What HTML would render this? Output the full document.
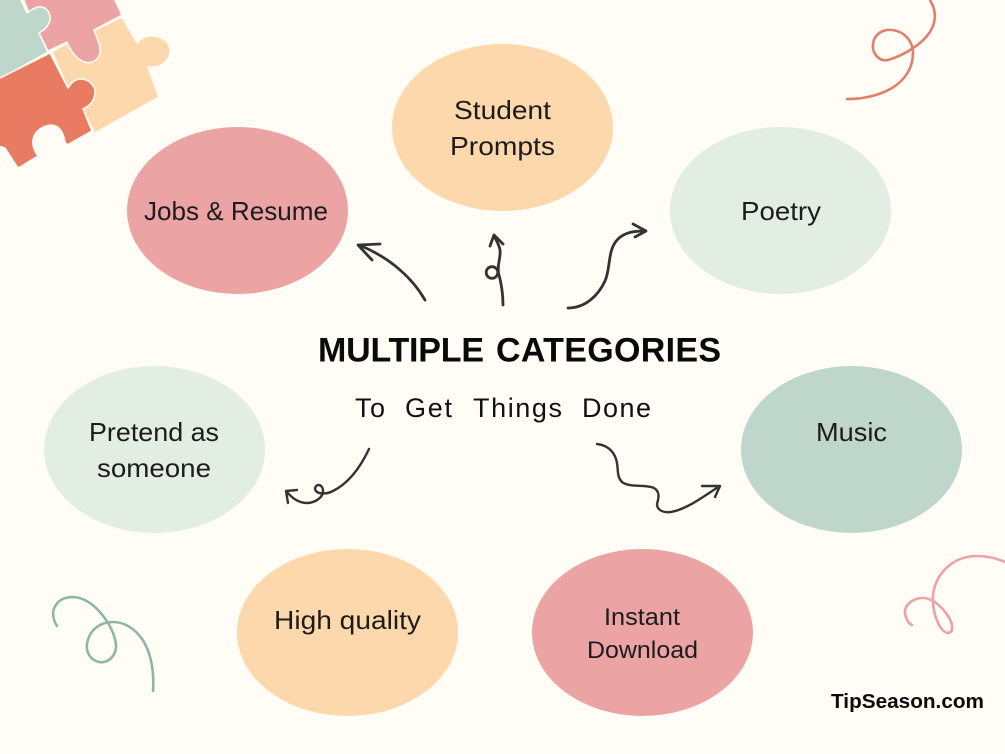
<!DOCTYPE html>
<html><head><meta charset="utf-8"><style>
html,body{margin:0;padding:0;background:#FFFDF6}
svg{display:block}
text{font-family:"Liberation Sans",sans-serif;fill:#1c1c1c}
.l{font-size:26px}
.h{font-size:27px;fill:#111}
.a{fill:none;stroke:#333;stroke-width:2.8;stroke-linecap:round;stroke-linejoin:round}
.s{fill:none;stroke-width:2.6;stroke-linecap:round}
.p{stroke:#FFFDF6;stroke-width:1.5;stroke-linejoin:round}
</style></head><body>
<svg width="1005" height="754" viewBox="0 0 1005 754" xmlns="http://www.w3.org/2000/svg">
<rect width="1005" height="754" fill="#FFFDF6"/>
<!-- puzzle -->
<path class="p" d="M52 52L67 43L95 30L122 17L137 43C141 38 147 35 153 36C164 37 171 44 170 52C169 62 158 69 148 67L159 97L95 133L83 111L68 88Z" fill="#FDD8AC"/>
<path class="p" d="M23 -2L29 13L39 33L48 51L67 42C70 50 76 58 82 61C90 65 98 61 100 53C101 44 96 37 94 30L122 15L114 -2Z" fill="#EBA3A3"/>
<path class="p" d="M-2 -2H20L27 13C32 9 38 6 42 7C49 9 52 17 49 23C47 28 43 31 39 33L48 52L-2 80Z" fill="#BFD6CB"/>
<path class="p" d="M50 53L68 88C71 83 75 79 81 79C88 79 95 85 95 92C95 100 90 106 83 109L92 131L69 144C67 145 66 144 65 142C64 136 62 129 56 126C48 123 38 128 34 136C31 144 34 150 38 156L20 167C18 168 17 167 16 165L5 148L-2 146V79Z" fill="#E97B63"/>
<!-- ellipses -->
<ellipse cx="502.500" cy="127.500" rx="110.500" ry="83.500" fill="#FDD8AC"/>
<ellipse cx="237.500" cy="210.500" rx="110.500" ry="83.500" fill="#EBA3A3"/>
<ellipse cx="780.500" cy="210.500" rx="110.500" ry="83.500" fill="#E3EEE3"/>
<ellipse cx="154.500" cy="449.500" rx="110.500" ry="83.500" fill="#E3EEE3"/>
<ellipse cx="851.500" cy="449.500" rx="110.500" ry="83.500" fill="#BFD6CB"/>
<ellipse cx="347.500" cy="632.500" rx="110.500" ry="83.500" fill="#FDD8AC"/>
<ellipse cx="642.500" cy="632.500" rx="110.500" ry="83.500" fill="#EBA3A3"/>
<!-- labels -->
<text class="l" x="454" y="119" textLength="97" lengthAdjust="spacingAndGlyphs">Student</text>
<text class="l" x="450" y="155" textLength="105" lengthAdjust="spacingAndGlyphs">Prompts</text>
<text class="l" x="144" y="220" textLength="184" lengthAdjust="spacingAndGlyphs">Jobs &amp; Resume</text>
<text class="l" x="741" y="220" textLength="80" lengthAdjust="spacingAndGlyphs">Poetry</text>
<text class="l" x="89" y="441" textLength="130" lengthAdjust="spacingAndGlyphs">Pretend as</text>
<text class="l" x="97" y="477" textLength="114" lengthAdjust="spacingAndGlyphs">someone</text>
<text class="l" x="816" y="441" textLength="71" lengthAdjust="spacingAndGlyphs">Music</text>
<text class="l" x="274" y="629" textLength="147" lengthAdjust="spacingAndGlyphs">High quality</text>
<text x="604" y="625" font-size="24" textLength="76" lengthAdjust="spacingAndGlyphs">Instant</text>
<text x="587" y="658" font-size="24" textLength="111" lengthAdjust="spacingAndGlyphs">Download</text>
<!-- center -->
<text x="318" y="361.500" font-size="34" font-weight="700" textLength="166" lengthAdjust="spacing" style="fill:#0a0a0a">MULTIPLE</text>
<text x="496" y="361.500" font-size="34" font-weight="700" textLength="225" lengthAdjust="spacing" style="fill:#0a0a0a">CATEGORIES</text>
<text class="h" x="355" y="417" textLength="30" lengthAdjust="spacing">To</text>
<text class="h" x="405" y="417" textLength="47" lengthAdjust="spacing">Get</text>
<text class="h" x="473" y="417" textLength="89" lengthAdjust="spacing">Things</text>
<text class="h" x="582" y="417" textLength="69" lengthAdjust="spacing">Done</text>
<text x="831" y="708" font-size="20" font-weight="700" textLength="153" lengthAdjust="spacingAndGlyphs" style="fill:#0a0a0a">TipSeason.com</text>
<!-- arrows -->
<path class="a" d="M425 300C413 279 391 258 359 245M380 244L358 245L372 260"/>
<path class="a" d="M503 305C503 292 501 282 498.500 273C497 264 501 258 500 250C499 244 496 240 494 236M490 246L494 235L503 244"/>
<circle class="a" cx="492" cy="272.500" r="5.800"/>
<path class="a" d="M568 308C585 308 598 296 605 281C611 268 607 250 618 239C625 232 635 231 645 231M633 224L646 231L635 237"/>
<path class="a" style="stroke-width:2.4" d="M369 449C361 466 349 483 333 491C325 495 316 494 315 489C315 484 322 483 323 490C324 497 315 503 307 503C299 503 292 498 287 492M297 490L286 491L288 503"/>
<path class="a" style="stroke-width:2.4" d="M597 444C606 445 613 450 616 459C619 468 616 476 622 482C630 488 645 484 654 488C661 492 658 500 657 504C657 510 663 513 671 512C688 509 705 495 720 486M702 486L720 486L715 497"/>
<!-- squiggles -->
<path class="s" stroke="#E0806C" d="M930 0C937 12 936 22 930 32C922 44 905 55 888 60C878 62 872 52 873 44C874 34 883 29 892 30C904 31 913 41 913 53C913 68 905 80 892 88C878 96 862 99 847 99"/>
<path class="s" stroke="#EBA3A3" d="M1005 562C993 557 985 556 975 556C950 557 932 578 933 600C933 615 940 632 948 633C955 632 952 622 948 616C942 607 935 600 925 598C912 597 904 606 905 614C906 619 909 624 912 625"/>
<path class="s" stroke="#8FB5A7" d="M57 626C52 618 52 610 56 605C60 598 68 597 74 597C88 598 100 610 108 623C114 633 118 645 115 652C112 660 105 663 99 662C90 660 86 652 87 644C89 630 100 622 113 622C127 622 140 632 147 648C152 660 154 675 153 691"/>
</svg>
</body></html>
